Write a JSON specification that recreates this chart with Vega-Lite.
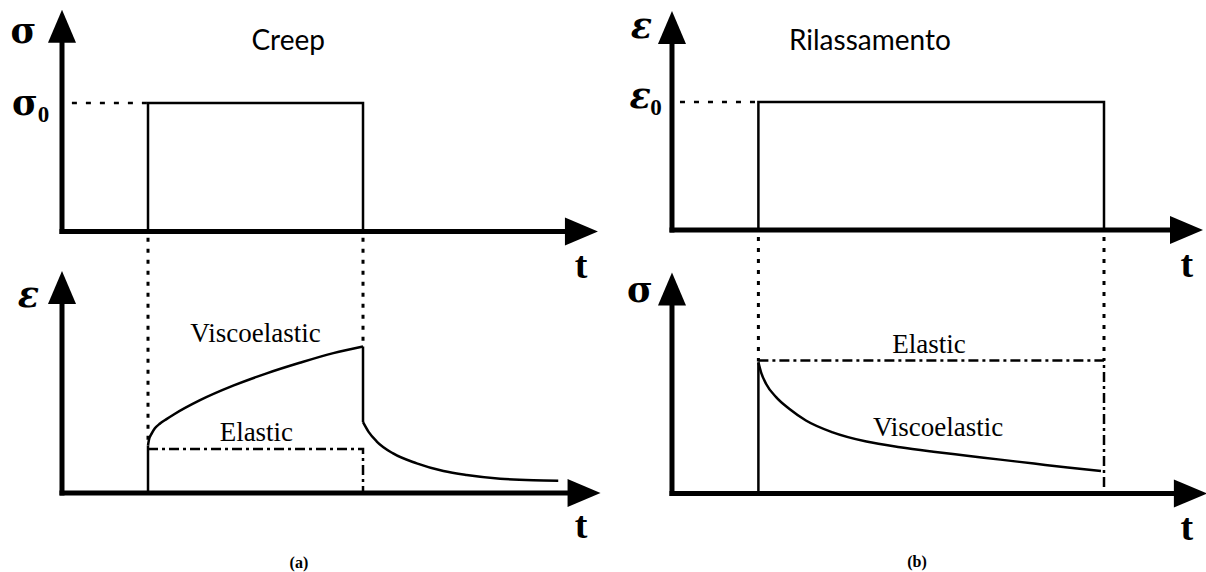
{
  "$schema": "https://vega.github.io/schema/vega-lite/v6.json",
  "autosize": {"type": "pad"},
  "padding": 0,
  "background": "white",
  "columns": 2,
  "spacing": 0,
  "bounds": "flush",
  "config": {
    "view": {"stroke": null},
    "text": {"color": "black"},
    "line": {"color": "black"},
    "rule": {"color": "black"},
    "point": {"color": "black"}
  },
  "concat": [
    {
      "width": 603,
      "height": 286,
      "encoding": {
        "x": {"field": "t", "type": "quantitative", "scale": {"domain": [-1.442, 12.581], "nice": false, "zero": false}, "axis": null},
        "y": {"field": "v", "type": "quantitative", "scale": {"domain": [-0.424, 1.8016], "nice": false, "zero": false}, "axis": null}
      },
      "layer": [
        {
          "data": {"values": [{"t": 0.23, "t2": 2, "v": 1}]},
          "mark": {"type": "rule", "strokeWidth": 2.5, "strokeDash": [5, 9]},
          "encoding": {"x2": {"field": "t2"}}
        },
        {
          "data": {"values": [{"i": 0, "t": 2, "v": 0}, {"i": 1, "t": 2, "v": 1}, {"i": 2, "t": 7, "v": 1}, {"i": 3, "t": 7, "v": 0}]},
          "mark": {"type": "line", "strokeWidth": 2.5, "strokeJoin": "miter"},
          "encoding": {"order": {"field": "i"}}
        },
        {
          "data": {"values": [{"t": 0, "v": 0, "t2": 0, "v2": 1.5}, {"t": 0, "v": 0, "t2": 12, "v2": 0}]},
          "mark": {"type": "rule", "strokeWidth": 5, "strokeCap": "square"},
          "encoding": {"x2": {"field": "t2"}, "y2": {"field": "v2"}}
        },
        {
          "data": {"values": [{"t": 0, "v": 1.598, "dir": "up"}, {"t": 12.08, "v": 0, "dir": "right"}]},
          "mark": {"type": "point", "filled": true, "size": 1089, "opacity": 1, "strokeWidth": 0},
          "encoding": {"shape": {"field": "dir", "type": "nominal", "scale": {"domain": ["up", "right"], "range": ["M0,-1L-0.85,1L0.85,1Z", "M1,0L-1,-0.85L-1,0.85Z"]}, "legend": null}}
        },
        {
          "data": {"values": [{"t": -0.895, "v": 1.467, "label": "σ"}, {"t": -0.86, "v": 0.907, "label": "σ"}]},
          "mark": {"type": "text", "font": "DejaVu Serif", "fontWeight": "bold", "fontSize": 35, "baseline": "alphabetic", "align": "center"},
          "encoding": {"text": {"field": "label"}}
        },
        {
          "data": {"values": [{"t": -0.43, "v": 0.852, "label": "0"}]},
          "mark": {"type": "text", "font": "Liberation Serif", "fontWeight": "bold", "fontSize": 23, "baseline": "alphabetic", "align": "center"},
          "encoding": {"text": {"field": "label"}}
        },
        {
          "data": {"values": [{"t": 5.26, "v": 1.4125, "label": "Creep"}]},
          "mark": {"type": "text", "font": "Lato", "fontSize": 28, "baseline": "alphabetic", "align": "center"},
          "encoding": {"text": {"field": "label"}}
        },
        {
          "data": {"values": [{"t": 12.07, "v": -0.362, "label": "t"}]},
          "mark": {"type": "text", "font": "Liberation Serif", "fontWeight": "bold", "fontSize": 38, "baseline": "alphabetic", "align": "center"},
          "encoding": {"text": {"field": "label"}}
        }
      ]
    },
    {
      "width": 603,
      "height": 286,
      "encoding": {
        "x": {"field": "t", "type": "quantitative", "scale": {"domain": [-1.597, 12.361], "nice": false, "zero": false}, "axis": null},
        "y": {"field": "v", "type": "quantitative", "scale": {"domain": [-0.4375, 1.797], "nice": false, "zero": false}, "axis": null}
      },
      "layer": [
        {
          "data": {"values": [{"t": 0.185, "t2": 2, "v": 1}]},
          "mark": {"type": "rule", "strokeWidth": 2.5, "strokeDash": [5, 9]},
          "encoding": {"x2": {"field": "t2"}}
        },
        {
          "data": {"values": [{"i": 0, "t": 2, "v": 0}, {"i": 1, "t": 2, "v": 1}, {"i": 2, "t": 10, "v": 1}, {"i": 3, "t": 10, "v": 0}]},
          "mark": {"type": "line", "strokeWidth": 2.5, "strokeJoin": "miter"},
          "encoding": {"order": {"field": "i"}}
        },
        {
          "data": {"values": [{"t": 0, "v": 0, "t2": 0, "v2": 1.5}, {"t": 0, "v": 0, "t2": 11.8, "v2": 0}]},
          "mark": {"type": "rule", "strokeWidth": 5, "strokeCap": "square"},
          "encoding": {"x2": {"field": "t2"}, "y2": {"field": "v2"}}
        },
        {
          "data": {"values": [{"t": 0, "v": 1.582, "dir": "up"}, {"t": 11.91, "v": 0, "dir": "right"}]},
          "mark": {"type": "point", "filled": true, "size": 1089, "opacity": 1, "strokeWidth": 0},
          "encoding": {"shape": {"field": "dir", "type": "nominal", "scale": {"domain": ["up", "right"], "range": ["M0,-1L-0.85,1L0.85,1Z", "M1,0L-1,-0.85L-1,0.85Z"]}, "legend": null}}
        },
        {
          "data": {"values": [{"t": -0.706, "v": 1.5, "label": "ε"}, {"t": -0.74, "v": 0.953, "label": "ε"}]},
          "mark": {"type": "text", "font": "DejaVu Serif", "fontStyle": "italic", "fontWeight": "bold", "fontSize": 35, "baseline": "alphabetic", "align": "center"},
          "encoding": {"text": {"field": "label"}}
        },
        {
          "data": {"values": [{"t": -0.37, "v": 0.898, "label": "0"}]},
          "mark": {"type": "text", "font": "Liberation Serif", "fontWeight": "bold", "fontSize": 23, "baseline": "alphabetic", "align": "center"},
          "encoding": {"text": {"field": "label"}}
        },
        {
          "data": {"values": [{"t": 4.58, "v": 1.406, "label": "Rilassamento"}]},
          "mark": {"type": "text", "font": "Lato", "fontSize": 28, "baseline": "alphabetic", "align": "center"},
          "encoding": {"text": {"field": "label"}}
        },
        {
          "data": {"values": [{"t": 11.92, "v": -0.367, "label": "t"}]},
          "mark": {"type": "text", "font": "Liberation Serif", "fontWeight": "bold", "fontSize": 38, "baseline": "alphabetic", "align": "center"},
          "encoding": {"text": {"field": "label"}}
        }
      ]
    },
    {
      "width": 603,
      "height": 286,
      "encoding": {
        "x": {"field": "t", "type": "quantitative", "scale": {"domain": [-1.442, 12.581], "nice": false, "zero": false}, "axis": null},
        "y": {"field": "v", "type": "quantitative", "scale": {"domain": [-1.795, 4.705], "nice": false, "zero": false}, "axis": null}
      },
      "layer": [
        {
          "data": {"values": [{"t": 2, "v": 5.8, "v2": 1.2}, {"t": 7, "v": 5.8, "v2": 3.4}]},
          "mark": {"type": "rule", "strokeWidth": 3, "strokeDash": [4, 7]},
          "encoding": {"y2": {"field": "v2"}}
        },
        {
          "data": {"values": [{"i": 0, "t": 2, "v": 1}, {"i": 1, "t": 7, "v": 1}, {"i": 2, "t": 7, "v": 0}]},
          "mark": {"type": "line", "strokeWidth": 2.5, "strokeDash": [10, 4, 3, 4]},
          "encoding": {"order": {"field": "i"}}
        },
        {
          "data": {"values": [{"t": 2, "v": 0, "v2": 1.08}, {"t": 7, "v": 3.33, "v2": 1.61}]},
          "mark": {"type": "rule", "strokeWidth": 2.5},
          "encoding": {"y2": {"field": "v2"}}
        },
        {
          "data": {"values": [
            {"seg": "load", "t": 2, "v": 1.08}, {"seg": "load", "t": 2.02, "v": 1.2}, {"seg": "load", "t": 2.09, "v": 1.36},
            {"seg": "load", "t": 2.16, "v": 1.47}, {"seg": "load", "t": 2.28, "v": 1.58}, {"seg": "load", "t": 2.43, "v": 1.68},
            {"seg": "load", "t": 2.59, "v": 1.78}, {"seg": "load", "t": 3.21, "v": 2.11}, {"seg": "load", "t": 3.98, "v": 2.44},
            {"seg": "load", "t": 4.76, "v": 2.72}, {"seg": "load", "t": 5.53, "v": 2.96}, {"seg": "load", "t": 6.31, "v": 3.18},
            {"seg": "load", "t": 7, "v": 3.33},
            {"seg": "recovery", "t": 7, "v": 1.61}, {"seg": "recovery", "t": 7.13, "v": 1.39}, {"seg": "recovery", "t": 7.32, "v": 1.17},
            {"seg": "recovery", "t": 7.7, "v": 0.9}, {"seg": "recovery", "t": 8.25, "v": 0.675}, {"seg": "recovery", "t": 8.87, "v": 0.5},
            {"seg": "recovery", "t": 9.41, "v": 0.41}, {"seg": "recovery", "t": 10.19, "v": 0.325}, {"seg": "recovery", "t": 10.96, "v": 0.29},
            {"seg": "recovery", "t": 11.54, "v": 0.28}
          ]},
          "mark": {"type": "line", "strokeWidth": 2.5, "interpolate": "monotone"},
          "encoding": {"detail": {"field": "seg"}}
        },
        {
          "data": {"values": [{"t": 0, "v": 0, "t2": 0, "v2": 4.55}, {"t": 0, "v": 0, "t2": 12, "v2": 0}]},
          "mark": {"type": "rule", "strokeWidth": 5, "strokeCap": "square"},
          "encoding": {"x2": {"field": "t2"}, "y2": {"field": "v2"}}
        },
        {
          "data": {"values": [{"t": 0, "v": 4.67, "dir": "up"}, {"t": 12.14, "v": 0, "dir": "right"}]},
          "mark": {"type": "point", "filled": true, "size": 1089, "opacity": 1, "strokeWidth": 0},
          "encoding": {"shape": {"field": "dir", "type": "nominal", "scale": {"domain": ["up", "right"], "range": ["M0,-1L-0.85,1L0.85,1Z", "M1,0L-1,-0.85L-1,0.85Z"]}, "legend": null}}
        },
        {
          "data": {"values": [{"t": -0.779, "v": 4.23, "label": "ε"}]},
          "mark": {"type": "text", "font": "DejaVu Serif", "fontStyle": "italic", "fontWeight": "bold", "fontSize": 35, "baseline": "alphabetic", "align": "center"},
          "encoding": {"text": {"field": "label"}}
        },
        {
          "data": {"values": [{"t": 4.5, "v": 3.44, "label": "Viscoelastic"}, {"t": 4.52, "v": 1.18, "label": "Elastic"}]},
          "mark": {"type": "text", "font": "Liberation Serif", "fontSize": 27, "baseline": "alphabetic", "align": "center"},
          "encoding": {"text": {"field": "label"}}
        },
        {
          "data": {"values": [{"t": 12.07, "v": -1.02, "label": "t"}]},
          "mark": {"type": "text", "font": "Liberation Serif", "fontWeight": "bold", "fontSize": 38, "baseline": "alphabetic", "align": "center"},
          "encoding": {"text": {"field": "label"}}
        },
        {
          "data": {"values": [{"t": 5.51, "v": -1.7, "label": "(a)"}]},
          "mark": {"type": "text", "font": "Liberation Serif", "fontWeight": "bold", "fontSize": 16, "baseline": "alphabetic", "align": "center"},
          "encoding": {"text": {"field": "label"}}
        }
      ]
    },
    {
      "width": 603,
      "height": 286,
      "encoding": {
        "x": {"field": "t", "type": "quantitative", "scale": {"domain": [-1.597, 12.361], "nice": false, "zero": false}, "axis": null},
        "y": {"field": "v", "type": "quantitative", "scale": {"domain": [-1.784, 4.716], "nice": false, "zero": false}, "axis": null}
      },
      "layer": [
        {
          "data": {"values": [{"t": 2, "v": 5.83, "v2": 3.0}, {"t": 10, "v": 5.83, "v2": 3.02}]},
          "mark": {"type": "rule", "strokeWidth": 3, "strokeDash": [4, 7]},
          "encoding": {"y2": {"field": "v2"}}
        },
        {
          "data": {"values": [{"i": 0, "t": 2, "v": 3.02}, {"i": 1, "t": 10, "v": 3.02}, {"i": 2, "t": 10, "v": 0}]},
          "mark": {"type": "line", "strokeWidth": 2.5, "strokeDash": [10, 4, 3, 4]},
          "encoding": {"order": {"field": "i"}}
        },
        {
          "data": {"values": [{"t": 2, "v": 0, "v2": 2.98}]},
          "mark": {"type": "rule", "strokeWidth": 2.5},
          "encoding": {"y2": {"field": "v2"}}
        },
        {
          "data": {"values": [
            {"t": 2, "v": 2.98}, {"t": 2.06, "v": 2.76}, {"t": 2.18, "v": 2.49}, {"t": 2.41, "v": 2.19},
            {"t": 2.72, "v": 1.92}, {"t": 3.1, "v": 1.66}, {"t": 3.72, "v": 1.39}, {"t": 4.5, "v": 1.18},
            {"t": 5.28, "v": 1.05}, {"t": 6.05, "v": 0.95}, {"t": 6.83, "v": 0.86}, {"t": 7.6, "v": 0.77},
            {"t": 8.38, "v": 0.68}, {"t": 9.16, "v": 0.59}, {"t": 9.93, "v": 0.51}
          ]},
          "mark": {"type": "line", "strokeWidth": 2.5, "interpolate": "monotone"}
        },
        {
          "data": {"values": [{"t": 0, "v": 0, "t2": 0, "v2": 4.5}, {"t": 0, "v": 0, "t2": 11.9, "v2": 0}]},
          "mark": {"type": "rule", "strokeWidth": 5, "strokeCap": "square"},
          "encoding": {"x2": {"field": "t2"}, "y2": {"field": "v2"}}
        },
        {
          "data": {"values": [{"t": 0, "v": 4.65, "dir": "up"}, {"t": 12.0, "v": 0, "dir": "right"}]},
          "mark": {"type": "point", "filled": true, "size": 1089, "opacity": 1, "strokeWidth": 0},
          "encoding": {"shape": {"field": "dir", "type": "nominal", "scale": {"domain": ["up", "right"], "range": ["M0,-1L-0.85,1L0.85,1Z", "M1,0L-1,-0.85L-1,0.85Z"]}, "legend": null}}
        },
        {
          "data": {"values": [{"t": -0.74, "v": 4.35, "label": "σ"}]},
          "mark": {"type": "text", "font": "DejaVu Serif", "fontWeight": "bold", "fontSize": 35, "baseline": "alphabetic", "align": "center"},
          "encoding": {"text": {"field": "label"}}
        },
        {
          "data": {"values": [{"t": 5.95, "v": 3.19, "label": "Elastic"}, {"t": 6.16, "v": 1.31, "label": "Viscoelastic"}]},
          "mark": {"type": "text", "font": "Liberation Serif", "fontSize": 27, "baseline": "alphabetic", "align": "center"},
          "encoding": {"text": {"field": "label"}}
        },
        {
          "data": {"values": [{"t": 11.92, "v": -1.06, "label": "t"}]},
          "mark": {"type": "text", "font": "Liberation Serif", "fontWeight": "bold", "fontSize": 38, "baseline": "alphabetic", "align": "center"},
          "encoding": {"text": {"field": "label"}}
        },
        {
          "data": {"values": [{"t": 5.67, "v": -1.67, "label": "(b)"}]},
          "mark": {"type": "text", "font": "Liberation Serif", "fontWeight": "bold", "fontSize": 16, "baseline": "alphabetic", "align": "center"},
          "encoding": {"text": {"field": "label"}}
        }
      ]
    }
  ]
}
